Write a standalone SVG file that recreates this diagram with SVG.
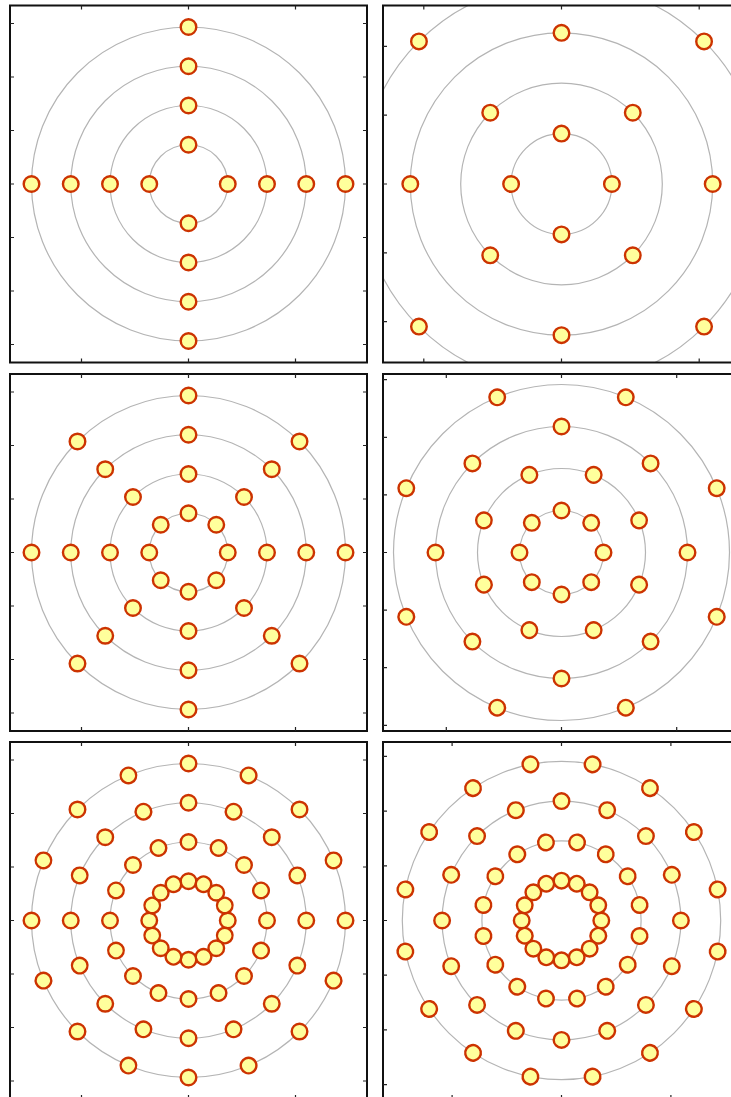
<svg xmlns="http://www.w3.org/2000/svg" xmlns:xlink="http://www.w3.org/1999/xlink" width="731" height="1097" viewBox="0 0 731 1097">
<style>
.bg{fill:#fff}
.ring{fill:none;stroke:#b4b4b4;stroke-width:1.2}
.nd{fill:#ffff9c;stroke:#cc3300;stroke-width:2.4}
.frame{fill:none;stroke:#111;stroke-width:2}
.tick{fill:none;stroke:#222;stroke-width:1.2}
</style>
<defs>
<clipPath id="clip"><rect x="0" y="0" width="357" height="357"/></clipPath>
<circle id="nd" class="nd" cx="0" cy="0" r="7.8"/>
</defs>
<rect class="bg" x="0" y="0" width="731" height="1097"/>

<!-- Panel 1 -->
<g id="panel1" transform="translate(10 5.5)">
<g clip-path="url(#clip)"><g transform="translate(178.5 178.5)">
<g id="p1-rings"><circle class="ring" r="39.25"/><circle class="ring" r="78.5"/><circle class="ring" r="117.75"/><circle class="ring" r="157"/></g>
<g id="p1r1"><use id="p1r1n0" href="#nd" transform="rotate(0)translate(39.25)"/><use id="p1r1n1" href="#nd" transform="rotate(90)translate(39.25)"/><use id="p1r1n2" href="#nd" transform="rotate(180)translate(39.25)"/><use id="p1r1n3" href="#nd" transform="rotate(270)translate(39.25)"/></g>
<g id="p1r2"><use id="p1r2n0" href="#nd" transform="rotate(0)translate(78.5)"/><use id="p1r2n1" href="#nd" transform="rotate(90)translate(78.5)"/><use id="p1r2n2" href="#nd" transform="rotate(180)translate(78.5)"/><use id="p1r2n3" href="#nd" transform="rotate(270)translate(78.5)"/></g>
<g id="p1r3"><use id="p1r3n0" href="#nd" transform="rotate(0)translate(117.75)"/><use id="p1r3n1" href="#nd" transform="rotate(90)translate(117.75)"/><use id="p1r3n2" href="#nd" transform="rotate(180)translate(117.75)"/><use id="p1r3n3" href="#nd" transform="rotate(270)translate(117.75)"/></g>
<g id="p1r4"><use id="p1r4n0" href="#nd" transform="rotate(0)translate(157)"/><use id="p1r4n1" href="#nd" transform="rotate(90)translate(157)"/><use id="p1r4n2" href="#nd" transform="rotate(180)translate(157)"/><use id="p1r4n3" href="#nd" transform="rotate(270)translate(157)"/></g>
</g></g>
<rect class="frame" x="0" y="0" width="357" height="357"/>
<path class="tick" d="M0 18h4M0 71.5h4M0 125h4M0 178.5h4M0 232h4M0 285.5h4M0 339h4M357 18h-4M357 71.5h-4M357 125h-4M357 178.5h-4M357 232h-4M357 285.5h-4M357 339h-4M71.5 0v4M178.5 0v4M285.5 0v4M71.5 357v-4M178.5 357v-4M285.5 357v-4"/>
</g>

<!-- Panel 2 -->
<g id="panel2" transform="translate(383 5.5)">
<g clip-path="url(#clip)"><g transform="translate(178.5 178.5)">
<g id="p2-rings"><circle class="ring" r="50.4"/><circle class="ring" r="100.8"/><circle class="ring" r="151.2"/><circle class="ring" r="201.6"/></g>
<g id="p2r1"><use id="p2r1n0" href="#nd" transform="rotate(0)translate(50.4)"/><use id="p2r1n1" href="#nd" transform="rotate(90)translate(50.4)"/><use id="p2r1n2" href="#nd" transform="rotate(180)translate(50.4)"/><use id="p2r1n3" href="#nd" transform="rotate(270)translate(50.4)"/></g>
<g id="p2r2"><use id="p2r2n0" href="#nd" transform="rotate(45)translate(100.8)"/><use id="p2r2n1" href="#nd" transform="rotate(135)translate(100.8)"/><use id="p2r2n2" href="#nd" transform="rotate(225)translate(100.8)"/><use id="p2r2n3" href="#nd" transform="rotate(315)translate(100.8)"/></g>
<g id="p2r3"><use id="p2r3n0" href="#nd" transform="rotate(0)translate(151.2)"/><use id="p2r3n1" href="#nd" transform="rotate(90)translate(151.2)"/><use id="p2r3n2" href="#nd" transform="rotate(180)translate(151.2)"/><use id="p2r3n3" href="#nd" transform="rotate(270)translate(151.2)"/></g>
<g id="p2r4"><use id="p2r4n0" href="#nd" transform="rotate(45)translate(201.6)"/><use id="p2r4n1" href="#nd" transform="rotate(135)translate(201.6)"/><use id="p2r4n2" href="#nd" transform="rotate(225)translate(201.6)"/><use id="p2r4n3" href="#nd" transform="rotate(315)translate(201.6)"/></g>
</g></g>
<rect class="frame" x="0" y="0" width="357" height="357"/>
<path class="tick" d="M0 40.8h4M0 109.65h4M0 178.5h4M0 247.35h4M0 316.2h4M357 40.8h-4M357 109.65h-4M357 178.5h-4M357 247.35h-4M357 316.2h-4M40.8 0v4M178.5 0v4M316.2 0v4M40.8 357v-4M178.5 357v-4M316.2 357v-4"/>
</g>

<!-- Panel 3 -->
<g id="panel3" transform="translate(10 374)">
<g clip-path="url(#clip)"><g transform="translate(178.5 178.5)">
<g id="p3-rings"><circle class="ring" r="39.25"/><circle class="ring" r="78.5"/><circle class="ring" r="117.75"/><circle class="ring" r="157"/></g>
<g id="p3r1"><use id="p3r1n0" href="#nd" transform="rotate(0)translate(39.25)"/><use id="p3r1n1" href="#nd" transform="rotate(45)translate(39.25)"/><use id="p3r1n2" href="#nd" transform="rotate(90)translate(39.25)"/><use id="p3r1n3" href="#nd" transform="rotate(135)translate(39.25)"/><use id="p3r1n4" href="#nd" transform="rotate(180)translate(39.25)"/><use id="p3r1n5" href="#nd" transform="rotate(225)translate(39.25)"/><use id="p3r1n6" href="#nd" transform="rotate(270)translate(39.25)"/><use id="p3r1n7" href="#nd" transform="rotate(315)translate(39.25)"/></g>
<g id="p3r2"><use id="p3r2n0" href="#nd" transform="rotate(0)translate(78.5)"/><use id="p3r2n1" href="#nd" transform="rotate(45)translate(78.5)"/><use id="p3r2n2" href="#nd" transform="rotate(90)translate(78.5)"/><use id="p3r2n3" href="#nd" transform="rotate(135)translate(78.5)"/><use id="p3r2n4" href="#nd" transform="rotate(180)translate(78.5)"/><use id="p3r2n5" href="#nd" transform="rotate(225)translate(78.5)"/><use id="p3r2n6" href="#nd" transform="rotate(270)translate(78.5)"/><use id="p3r2n7" href="#nd" transform="rotate(315)translate(78.5)"/></g>
<g id="p3r3"><use id="p3r3n0" href="#nd" transform="rotate(0)translate(117.75)"/><use id="p3r3n1" href="#nd" transform="rotate(45)translate(117.75)"/><use id="p3r3n2" href="#nd" transform="rotate(90)translate(117.75)"/><use id="p3r3n3" href="#nd" transform="rotate(135)translate(117.75)"/><use id="p3r3n4" href="#nd" transform="rotate(180)translate(117.75)"/><use id="p3r3n5" href="#nd" transform="rotate(225)translate(117.75)"/><use id="p3r3n6" href="#nd" transform="rotate(270)translate(117.75)"/><use id="p3r3n7" href="#nd" transform="rotate(315)translate(117.75)"/></g>
<g id="p3r4"><use id="p3r4n0" href="#nd" transform="rotate(0)translate(157)"/><use id="p3r4n1" href="#nd" transform="rotate(45)translate(157)"/><use id="p3r4n2" href="#nd" transform="rotate(90)translate(157)"/><use id="p3r4n3" href="#nd" transform="rotate(135)translate(157)"/><use id="p3r4n4" href="#nd" transform="rotate(180)translate(157)"/><use id="p3r4n5" href="#nd" transform="rotate(225)translate(157)"/><use id="p3r4n6" href="#nd" transform="rotate(270)translate(157)"/><use id="p3r4n7" href="#nd" transform="rotate(315)translate(157)"/></g>
</g></g>
<rect class="frame" x="0" y="0" width="357" height="357"/>
<path class="tick" d="M0 18h4M0 71.5h4M0 125h4M0 178.5h4M0 232h4M0 285.5h4M0 339h4M357 18h-4M357 71.5h-4M357 125h-4M357 178.5h-4M357 232h-4M357 285.5h-4M357 339h-4M71.5 0v4M178.5 0v4M285.5 0v4M71.5 357v-4M178.5 357v-4M285.5 357v-4"/>
</g>

<!-- Panel 4 -->
<g id="panel4" transform="translate(383 374)">
<g clip-path="url(#clip)"><g transform="translate(178.5 178.5)">
<g id="p4-rings"><circle class="ring" r="42"/><circle class="ring" r="84"/><circle class="ring" r="126"/><circle class="ring" r="168"/></g>
<g id="p4r1"><use id="p4r1n0" href="#nd" transform="rotate(0)translate(42)"/><use id="p4r1n1" href="#nd" transform="rotate(45)translate(42)"/><use id="p4r1n2" href="#nd" transform="rotate(90)translate(42)"/><use id="p4r1n3" href="#nd" transform="rotate(135)translate(42)"/><use id="p4r1n4" href="#nd" transform="rotate(180)translate(42)"/><use id="p4r1n5" href="#nd" transform="rotate(225)translate(42)"/><use id="p4r1n6" href="#nd" transform="rotate(270)translate(42)"/><use id="p4r1n7" href="#nd" transform="rotate(315)translate(42)"/></g>
<g id="p4r2"><use id="p4r2n0" href="#nd" transform="rotate(22.5)translate(84)"/><use id="p4r2n1" href="#nd" transform="rotate(67.5)translate(84)"/><use id="p4r2n2" href="#nd" transform="rotate(112.5)translate(84)"/><use id="p4r2n3" href="#nd" transform="rotate(157.5)translate(84)"/><use id="p4r2n4" href="#nd" transform="rotate(202.5)translate(84)"/><use id="p4r2n5" href="#nd" transform="rotate(247.5)translate(84)"/><use id="p4r2n6" href="#nd" transform="rotate(292.5)translate(84)"/><use id="p4r2n7" href="#nd" transform="rotate(337.5)translate(84)"/></g>
<g id="p4r3"><use id="p4r3n0" href="#nd" transform="rotate(0)translate(126)"/><use id="p4r3n1" href="#nd" transform="rotate(45)translate(126)"/><use id="p4r3n2" href="#nd" transform="rotate(90)translate(126)"/><use id="p4r3n3" href="#nd" transform="rotate(135)translate(126)"/><use id="p4r3n4" href="#nd" transform="rotate(180)translate(126)"/><use id="p4r3n5" href="#nd" transform="rotate(225)translate(126)"/><use id="p4r3n6" href="#nd" transform="rotate(270)translate(126)"/><use id="p4r3n7" href="#nd" transform="rotate(315)translate(126)"/></g>
<g id="p4r4"><use id="p4r4n0" href="#nd" transform="rotate(22.5)translate(168)"/><use id="p4r4n1" href="#nd" transform="rotate(67.5)translate(168)"/><use id="p4r4n2" href="#nd" transform="rotate(112.5)translate(168)"/><use id="p4r4n3" href="#nd" transform="rotate(157.5)translate(168)"/><use id="p4r4n4" href="#nd" transform="rotate(202.5)translate(168)"/><use id="p4r4n5" href="#nd" transform="rotate(247.5)translate(168)"/><use id="p4r4n6" href="#nd" transform="rotate(292.5)translate(168)"/><use id="p4r4n7" href="#nd" transform="rotate(337.5)translate(168)"/></g>
</g></g>
<rect class="frame" x="0" y="0" width="357" height="357"/>
<path class="tick" d="M0 5.7h4M0 63.3h4M0 120.9h4M0 178.5h4M0 236.1h4M0 293.7h4M0 351.3h4M357 5.7h-4M357 63.3h-4M357 120.9h-4M357 178.5h-4M357 236.1h-4M357 293.7h-4M357 351.3h-4M63.3 0v4M178.5 0v4M293.7 0v4M63.3 357v-4M178.5 357v-4M293.7 357v-4"/>
</g>

<!-- Panel 5 -->
<g id="panel5" transform="translate(10 742)">
<g clip-path="url(#clip)"><g transform="translate(178.5 178.5)">
<g id="p5-rings"><circle class="ring" r="39.25"/><circle class="ring" r="78.5"/><circle class="ring" r="117.75"/><circle class="ring" r="157"/></g>
<g id="p5r1"><use id="p5r1n0" href="#nd" transform="rotate(0)translate(39.25)"/><use id="p5r1n1" href="#nd" transform="rotate(22.5)translate(39.25)"/><use id="p5r1n2" href="#nd" transform="rotate(45)translate(39.25)"/><use id="p5r1n3" href="#nd" transform="rotate(67.5)translate(39.25)"/><use id="p5r1n4" href="#nd" transform="rotate(90)translate(39.25)"/><use id="p5r1n5" href="#nd" transform="rotate(112.5)translate(39.25)"/><use id="p5r1n6" href="#nd" transform="rotate(135)translate(39.25)"/><use id="p5r1n7" href="#nd" transform="rotate(157.5)translate(39.25)"/><use id="p5r1n8" href="#nd" transform="rotate(180)translate(39.25)"/><use id="p5r1n9" href="#nd" transform="rotate(202.5)translate(39.25)"/><use id="p5r1n10" href="#nd" transform="rotate(225)translate(39.25)"/><use id="p5r1n11" href="#nd" transform="rotate(247.5)translate(39.25)"/><use id="p5r1n12" href="#nd" transform="rotate(270)translate(39.25)"/><use id="p5r1n13" href="#nd" transform="rotate(292.5)translate(39.25)"/><use id="p5r1n14" href="#nd" transform="rotate(315)translate(39.25)"/><use id="p5r1n15" href="#nd" transform="rotate(337.5)translate(39.25)"/></g>
<g id="p5r2"><use id="p5r2n0" href="#nd" transform="rotate(0)translate(78.5)"/><use id="p5r2n1" href="#nd" transform="rotate(22.5)translate(78.5)"/><use id="p5r2n2" href="#nd" transform="rotate(45)translate(78.5)"/><use id="p5r2n3" href="#nd" transform="rotate(67.5)translate(78.5)"/><use id="p5r2n4" href="#nd" transform="rotate(90)translate(78.5)"/><use id="p5r2n5" href="#nd" transform="rotate(112.5)translate(78.5)"/><use id="p5r2n6" href="#nd" transform="rotate(135)translate(78.5)"/><use id="p5r2n7" href="#nd" transform="rotate(157.5)translate(78.5)"/><use id="p5r2n8" href="#nd" transform="rotate(180)translate(78.5)"/><use id="p5r2n9" href="#nd" transform="rotate(202.5)translate(78.5)"/><use id="p5r2n10" href="#nd" transform="rotate(225)translate(78.5)"/><use id="p5r2n11" href="#nd" transform="rotate(247.5)translate(78.5)"/><use id="p5r2n12" href="#nd" transform="rotate(270)translate(78.5)"/><use id="p5r2n13" href="#nd" transform="rotate(292.5)translate(78.5)"/><use id="p5r2n14" href="#nd" transform="rotate(315)translate(78.5)"/><use id="p5r2n15" href="#nd" transform="rotate(337.5)translate(78.5)"/></g>
<g id="p5r3"><use id="p5r3n0" href="#nd" transform="rotate(0)translate(117.75)"/><use id="p5r3n1" href="#nd" transform="rotate(22.5)translate(117.75)"/><use id="p5r3n2" href="#nd" transform="rotate(45)translate(117.75)"/><use id="p5r3n3" href="#nd" transform="rotate(67.5)translate(117.75)"/><use id="p5r3n4" href="#nd" transform="rotate(90)translate(117.75)"/><use id="p5r3n5" href="#nd" transform="rotate(112.5)translate(117.75)"/><use id="p5r3n6" href="#nd" transform="rotate(135)translate(117.75)"/><use id="p5r3n7" href="#nd" transform="rotate(157.5)translate(117.75)"/><use id="p5r3n8" href="#nd" transform="rotate(180)translate(117.75)"/><use id="p5r3n9" href="#nd" transform="rotate(202.5)translate(117.75)"/><use id="p5r3n10" href="#nd" transform="rotate(225)translate(117.75)"/><use id="p5r3n11" href="#nd" transform="rotate(247.5)translate(117.75)"/><use id="p5r3n12" href="#nd" transform="rotate(270)translate(117.75)"/><use id="p5r3n13" href="#nd" transform="rotate(292.5)translate(117.75)"/><use id="p5r3n14" href="#nd" transform="rotate(315)translate(117.75)"/><use id="p5r3n15" href="#nd" transform="rotate(337.5)translate(117.75)"/></g>
<g id="p5r4"><use id="p5r4n0" href="#nd" transform="rotate(0)translate(157)"/><use id="p5r4n1" href="#nd" transform="rotate(22.5)translate(157)"/><use id="p5r4n2" href="#nd" transform="rotate(45)translate(157)"/><use id="p5r4n3" href="#nd" transform="rotate(67.5)translate(157)"/><use id="p5r4n4" href="#nd" transform="rotate(90)translate(157)"/><use id="p5r4n5" href="#nd" transform="rotate(112.5)translate(157)"/><use id="p5r4n6" href="#nd" transform="rotate(135)translate(157)"/><use id="p5r4n7" href="#nd" transform="rotate(157.5)translate(157)"/><use id="p5r4n8" href="#nd" transform="rotate(180)translate(157)"/><use id="p5r4n9" href="#nd" transform="rotate(202.5)translate(157)"/><use id="p5r4n10" href="#nd" transform="rotate(225)translate(157)"/><use id="p5r4n11" href="#nd" transform="rotate(247.5)translate(157)"/><use id="p5r4n12" href="#nd" transform="rotate(270)translate(157)"/><use id="p5r4n13" href="#nd" transform="rotate(292.5)translate(157)"/><use id="p5r4n14" href="#nd" transform="rotate(315)translate(157)"/><use id="p5r4n15" href="#nd" transform="rotate(337.5)translate(157)"/></g>
</g></g>
<rect class="frame" x="0" y="0" width="357" height="357"/>
<path class="tick" d="M0 18h4M0 71.5h4M0 125h4M0 178.5h4M0 232h4M0 285.5h4M0 339h4M357 18h-4M357 71.5h-4M357 125h-4M357 178.5h-4M357 232h-4M357 285.5h-4M357 339h-4M71.5 0v4M178.5 0v4M285.5 0v4M71.5 357v-4M178.5 357v-4M285.5 357v-4"/>
</g>

<!-- Panel 6 -->
<g id="panel6" transform="translate(383 742)">
<g clip-path="url(#clip)"><g transform="translate(178.5 178.5)">
<g id="p6-rings"><circle class="ring" r="39.8"/><circle class="ring" r="79.6"/><circle class="ring" r="119.4"/><circle class="ring" r="159.2"/></g>
<g id="p6r1"><use id="p6r1n0" href="#nd" transform="rotate(0)translate(39.8)"/><use id="p6r1n1" href="#nd" transform="rotate(22.5)translate(39.8)"/><use id="p6r1n2" href="#nd" transform="rotate(45)translate(39.8)"/><use id="p6r1n3" href="#nd" transform="rotate(67.5)translate(39.8)"/><use id="p6r1n4" href="#nd" transform="rotate(90)translate(39.8)"/><use id="p6r1n5" href="#nd" transform="rotate(112.5)translate(39.8)"/><use id="p6r1n6" href="#nd" transform="rotate(135)translate(39.8)"/><use id="p6r1n7" href="#nd" transform="rotate(157.5)translate(39.8)"/><use id="p6r1n8" href="#nd" transform="rotate(180)translate(39.8)"/><use id="p6r1n9" href="#nd" transform="rotate(202.5)translate(39.8)"/><use id="p6r1n10" href="#nd" transform="rotate(225)translate(39.8)"/><use id="p6r1n11" href="#nd" transform="rotate(247.5)translate(39.8)"/><use id="p6r1n12" href="#nd" transform="rotate(270)translate(39.8)"/><use id="p6r1n13" href="#nd" transform="rotate(292.5)translate(39.8)"/><use id="p6r1n14" href="#nd" transform="rotate(315)translate(39.8)"/><use id="p6r1n15" href="#nd" transform="rotate(337.5)translate(39.8)"/></g>
<g id="p6r2"><use id="p6r2n0" href="#nd" transform="rotate(11.25)translate(79.6)"/><use id="p6r2n1" href="#nd" transform="rotate(33.75)translate(79.6)"/><use id="p6r2n2" href="#nd" transform="rotate(56.25)translate(79.6)"/><use id="p6r2n3" href="#nd" transform="rotate(78.75)translate(79.6)"/><use id="p6r2n4" href="#nd" transform="rotate(101.25)translate(79.6)"/><use id="p6r2n5" href="#nd" transform="rotate(123.75)translate(79.6)"/><use id="p6r2n6" href="#nd" transform="rotate(146.25)translate(79.6)"/><use id="p6r2n7" href="#nd" transform="rotate(168.75)translate(79.6)"/><use id="p6r2n8" href="#nd" transform="rotate(191.25)translate(79.6)"/><use id="p6r2n9" href="#nd" transform="rotate(213.75)translate(79.6)"/><use id="p6r2n10" href="#nd" transform="rotate(236.25)translate(79.6)"/><use id="p6r2n11" href="#nd" transform="rotate(258.75)translate(79.6)"/><use id="p6r2n12" href="#nd" transform="rotate(281.25)translate(79.6)"/><use id="p6r2n13" href="#nd" transform="rotate(303.75)translate(79.6)"/><use id="p6r2n14" href="#nd" transform="rotate(326.25)translate(79.6)"/><use id="p6r2n15" href="#nd" transform="rotate(348.75)translate(79.6)"/></g>
<g id="p6r3"><use id="p6r3n0" href="#nd" transform="rotate(0)translate(119.4)"/><use id="p6r3n1" href="#nd" transform="rotate(22.5)translate(119.4)"/><use id="p6r3n2" href="#nd" transform="rotate(45)translate(119.4)"/><use id="p6r3n3" href="#nd" transform="rotate(67.5)translate(119.4)"/><use id="p6r3n4" href="#nd" transform="rotate(90)translate(119.4)"/><use id="p6r3n5" href="#nd" transform="rotate(112.5)translate(119.4)"/><use id="p6r3n6" href="#nd" transform="rotate(135)translate(119.4)"/><use id="p6r3n7" href="#nd" transform="rotate(157.5)translate(119.4)"/><use id="p6r3n8" href="#nd" transform="rotate(180)translate(119.4)"/><use id="p6r3n9" href="#nd" transform="rotate(202.5)translate(119.4)"/><use id="p6r3n10" href="#nd" transform="rotate(225)translate(119.4)"/><use id="p6r3n11" href="#nd" transform="rotate(247.5)translate(119.4)"/><use id="p6r3n12" href="#nd" transform="rotate(270)translate(119.4)"/><use id="p6r3n13" href="#nd" transform="rotate(292.5)translate(119.4)"/><use id="p6r3n14" href="#nd" transform="rotate(315)translate(119.4)"/><use id="p6r3n15" href="#nd" transform="rotate(337.5)translate(119.4)"/></g>
<g id="p6r4"><use id="p6r4n0" href="#nd" transform="rotate(11.25)translate(159.2)"/><use id="p6r4n1" href="#nd" transform="rotate(33.75)translate(159.2)"/><use id="p6r4n2" href="#nd" transform="rotate(56.25)translate(159.2)"/><use id="p6r4n3" href="#nd" transform="rotate(78.75)translate(159.2)"/><use id="p6r4n4" href="#nd" transform="rotate(101.25)translate(159.2)"/><use id="p6r4n5" href="#nd" transform="rotate(123.75)translate(159.2)"/><use id="p6r4n6" href="#nd" transform="rotate(146.25)translate(159.2)"/><use id="p6r4n7" href="#nd" transform="rotate(168.75)translate(159.2)"/><use id="p6r4n8" href="#nd" transform="rotate(191.25)translate(159.2)"/><use id="p6r4n9" href="#nd" transform="rotate(213.75)translate(159.2)"/><use id="p6r4n10" href="#nd" transform="rotate(236.25)translate(159.2)"/><use id="p6r4n11" href="#nd" transform="rotate(258.75)translate(159.2)"/><use id="p6r4n12" href="#nd" transform="rotate(281.25)translate(159.2)"/><use id="p6r4n13" href="#nd" transform="rotate(303.75)translate(159.2)"/><use id="p6r4n14" href="#nd" transform="rotate(326.25)translate(159.2)"/><use id="p6r4n15" href="#nd" transform="rotate(348.75)translate(159.2)"/></g>
</g></g>
<rect class="frame" x="0" y="0" width="357" height="357"/>
<path class="tick" d="M0 14.4h4M0 69.1h4M0 123.8h4M0 178.5h4M0 233.2h4M0 287.9h4M0 342.6h4M357 14.4h-4M357 69.1h-4M357 123.8h-4M357 178.5h-4M357 233.2h-4M357 287.9h-4M357 342.6h-4M69.1 0v4M178.5 0v4M287.9 0v4M69.1 357v-4M178.5 357v-4M287.9 357v-4"/>
</g>
</svg>
